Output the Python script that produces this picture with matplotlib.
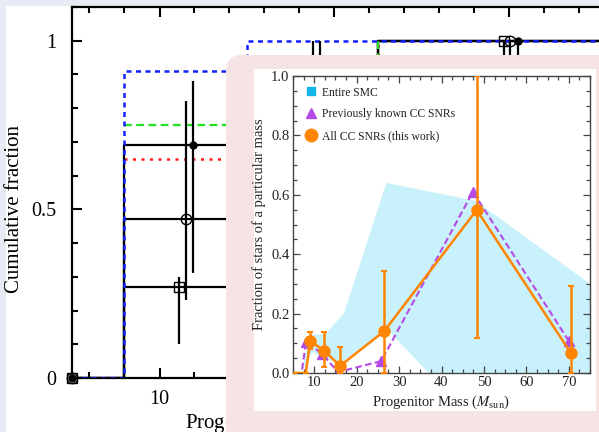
import matplotlib
matplotlib.use("Agg")
import matplotlib.pyplot as plt
import numpy as np
from matplotlib.patches import FancyBboxPatch, Rectangle
from matplotlib.lines import Line2D
from matplotlib.ticker import MultipleLocator, FixedLocator, FixedFormatter
import matplotlib.transforms as mtransforms

plt.rcParams["font.family"] = ["Liberation Serif", "DejaVu Serif"]
plt.rcParams["mathtext.fontset"] = "stix"

# ---------------- cumulative distributions (main panel) ----------------
blue_mass = [5, 8, 15, 40]
blue_cum = [0, 0.91, 1.0, 1.0]
green_mass = [8, 22.5]
green_cum = [0.75, 1.0]
red_mass = [8, 22.5]
red_cum = [0.65, 1.0]

filled_mass = [5, 8, 22.5, 40]
filled_cum = [0, 0.69, 1.0, 1.0]
open_mass = [5, 8, 18, 22.5, 40]
open_cum = [0, 0.47, 0.85, 1.0, 1.0]
square_mass = [5, 8, 18, 22.5, 40]
square_cum = [0, 0.27, 0.80, 1.0, 1.0]

filled_pt_mass = [5, 11.9, 30.5]
filled_pt_cum = [0, 0.69, 1.0]
filled_pt_lo = [0, 0.38, 0.15]
filled_pt_hi = [0, 0.19, 0]
open_pt_mass = [5, 11.5, 19.2, 30.05]
open_pt_cum = [0, 0.47, 0.85, 1.0]
open_pt_lo = [0, 0.24, 0.20, 0.15]
open_pt_hi = [0, 0.35, 0.15, 0]
square_pt_mass = [5, 11.1, 18.8, 29.7]
square_pt_cum = [0, 0.27, 0.80, 1.0]
square_pt_lo = [0, 0.17, 0.20, 0.15]
square_pt_hi = [0, 0.03, 0.20, 0]

main_yticks = [0, 0.5, 1]
main_yticklabels = ["0", "0.5", "1"]

# ---------------- mass distribution (inset) ----------------
smc_upper_mass = [7.0, 9.0, 12.5, 17.0, 27.0, 48.0, 75.0]
smc_upper_frac = [0.0, 0.13, 0.13, 0.20, 0.64, 0.58, 0.30]
smc_lower_mass = [7.0, 9.5, 12.5, 16.0, 27.0, 37.0, 75.0]
smc_lower_frac = [0.0, 0.07, 0.05, 0.03, 0.15, 0.0, 0.0]

known_mass = [5.5, 7.0, 8.1, 11.9, 15.6, 25.8, 47.4, 70.0]
known_frac = [0, 0, 0.105, 0.064, 0.003, 0.040, 0.610, 0.108]

snr_mass = [5.5, 8.0, 9.1, 12.4, 16.1, 26.5, 48.3, 70.5]
snr_frac = [0, 0, 0.108, 0.074, 0.024, 0.141, 0.549, 0.067]
snr_err_lo = [0, 0, 0.028, 0.054, 0.024, 0.141, 0.431, 0.067]
snr_err_hi = [0, 0, 0.030, 0.063, 0.065, 0.202, 0.451, 0.226]

legend_labels = ["Entire SMC", "Previously known CC SNRs", "All CC SNRs (this work)"]

W, H = 599, 432
fig = plt.figure(figsize=(W / 100, H / 100), dpi=100, facecolor="#e7ebf3")

# white page behind the main plot
fig.patches.append(Rectangle((6 / W, 0), 1, 1 - 6 / H, transform=fig.transFigure,
                             facecolor="white", edgecolor="none", zorder=-5))

# ---------------- main panel ----------------
ax = fig.add_axes([72 / W, (H - 378) / H, 612.5 / W, 371 / H], zorder=0)
ax.patch.set_alpha(0)
ax.set_xlim(5, 40)
ax.set_ylim(0, 1.1)

ax.plot(red_mass, red_cum, drawstyle="steps-post", color="#ff1a1a", lw=1.8,
        ls=(0, (1.2, 2.2)), zorder=2)
ax.plot(filled_mass, filled_cum, drawstyle="steps-post", color="black", lw=1.6, zorder=2.5)
ax.plot(open_mass, open_cum, drawstyle="steps-post", color="black", lw=1.6, zorder=2.5)
ax.plot(square_mass, square_cum, drawstyle="steps-post", color="black", lw=1.6, zorder=2.5)
ax.plot(green_mass, green_cum, drawstyle="steps-post", color="#22e022", lw=1.6,
        ls=(0, (3.5, 2.0)), zorder=3)
ax.plot(blue_mass, blue_cum, drawstyle="steps-post", color="#1020ff", lw=1.8,
        ls=(0, (2.0, 1.8)), zorder=4)

ax.errorbar(square_pt_mass, square_pt_cum, yerr=[square_pt_lo, square_pt_hi], fmt="s",
            ms=6.5, mfc="none", mec="black", mew=1.0, ecolor="black", elinewidth=1.6,
            capsize=0, zorder=5, clip_on=False)
ax.errorbar(open_pt_mass, open_pt_cum, yerr=[open_pt_lo, open_pt_hi], fmt="o",
            ms=7.5, mfc="none", mec="black", mew=1.0, ecolor="black", elinewidth=1.6,
            capsize=0, zorder=5, clip_on=False)
ax.errorbar(filled_pt_mass, filled_pt_cum, yerr=[filled_pt_lo, filled_pt_hi], fmt="o",
            ms=5, mfc="black", mec="black", ecolor="black", elinewidth=1.6,
            capsize=0, zorder=5, clip_on=False)

ax.xaxis.set_major_locator(MultipleLocator(10))
ax.xaxis.set_minor_locator(MultipleLocator(2))
ax.yaxis.set_major_locator(FixedLocator(main_yticks))
ax.yaxis.set_major_formatter(FixedFormatter(main_yticklabels))
ax.yaxis.set_minor_locator(MultipleLocator(0.1))
ax.tick_params(which="both", direction="in", top=True, right=True, width=1.5,
               labelsize=14.5, colors="black")
ax.tick_params(which="major", length=7.5, pad=11)
ax.tick_params(axis="x", which="major", pad=9)
ax.tick_params(which="minor", length=4)
for sp in ax.spines.values():
    sp.set_linewidth(1.6)

ax.set_ylabel("Cumulative fraction", fontsize=15)
ax.yaxis.set_label_coords((24 - 72) / 612.5, 0.5 / 1.1)
xl = ax.set_xlabel(r"Progenitor mass ($M_\odot$)", fontsize=15)
xl.set_horizontalalignment("left")
ax.xaxis.set_label_coords((185 - 72) / 612.5, -0.09)

# ---------------- pink card with white panel ----------------
px = mtransforms.IdentityTransform()
card = FancyBboxPatch((226, -40), 420, 432 - 55 + 40,
                      boxstyle="round,pad=0,rounding_size=16", transform=px,
                      facecolor="#f6e4e4", edgecolor="none", zorder=1)
fig.patches.append(card)
fig.patches.append(Rectangle((254, H - 411), 596 - 254, 411 - 69, transform=px,
                             facecolor="white", edgecolor="none", zorder=2))

# ---------------- inset ----------------
ins = fig.add_axes([293 / W, (H - 373) / H, 297 / W, 297 / H], zorder=3)
ins.set_xlim(5, 75)
ins.set_ylim(0, 1.0)

poly_x = np.r_[smc_upper_mass, smc_lower_mass[::-1]]
poly_y = np.r_[smc_upper_frac, smc_lower_frac[::-1]]
ins.fill(poly_x, poly_y, color="#c9f1fb", lw=0, zorder=1)

# markers only where a fraction was measured
known_marked = [i for i, v in enumerate(known_frac) if v > 0]
snr_marked = [i for i, v in enumerate(snr_frac) if v > 0]

ins.plot(known_mass, known_frac, ls=(0, (3.2, 1.6)), color="#b44be6", lw=1.5,
         marker="^", ms=7, mec="#b44be6", mfc="#b44be6", markevery=known_marked, zorder=2)
ins.errorbar(snr_mass, snr_frac, yerr=[snr_err_lo, snr_err_hi], fmt="-o",
             color="#ff8500", lw=1.8, ms=8, elinewidth=1.8, capsize=2, capthick=1.5,
             markevery=snr_marked, zorder=3)

ins.xaxis.set_major_locator(MultipleLocator(10))
ins.xaxis.set_minor_locator(MultipleLocator(2.5))
ins.yaxis.set_major_locator(MultipleLocator(0.2))
ins.yaxis.set_minor_locator(MultipleLocator(0.05))
ins.tick_params(which="both", direction="in", top=True, right=True, width=0.9,
                color="#444444", labelsize=10.5, labelcolor="#222222")
ins.tick_params(which="major", length=5, pad=2.5)
ins.tick_params(which="minor", length=2.8)
for sp in ins.spines.values():
    sp.set_linewidth(1.0)
    sp.set_color("#444444")
ins.set_xlabel(r"Progenitor Mass ($M_{\mathrm{sun}}$)", fontsize=10.5, color="#222222",
               labelpad=3)
ins.set_ylabel("Fraction of stars of a particular mass", fontsize=10.5, color="#222222",
               labelpad=4)

handles = [
    Line2D([], [], ls="none", marker="s", ms=6, color="#12b6e8"),
    Line2D([], [], ls="none", marker="^", ms=7, color="#b44be6"),
    Line2D([], [], ls="none", marker="o", ms=9, color="#ff8500"),
]
ins.legend(handles, legend_labels, loc="upper left", frameon=False, fontsize=8.4,
           labelspacing=0.85, handletextpad=0.4, handlelength=1.2,
           borderaxespad=0.5, labelcolor="#222222")

fig.savefig("out.png", dpi=100, facecolor=fig.get_facecolor())
